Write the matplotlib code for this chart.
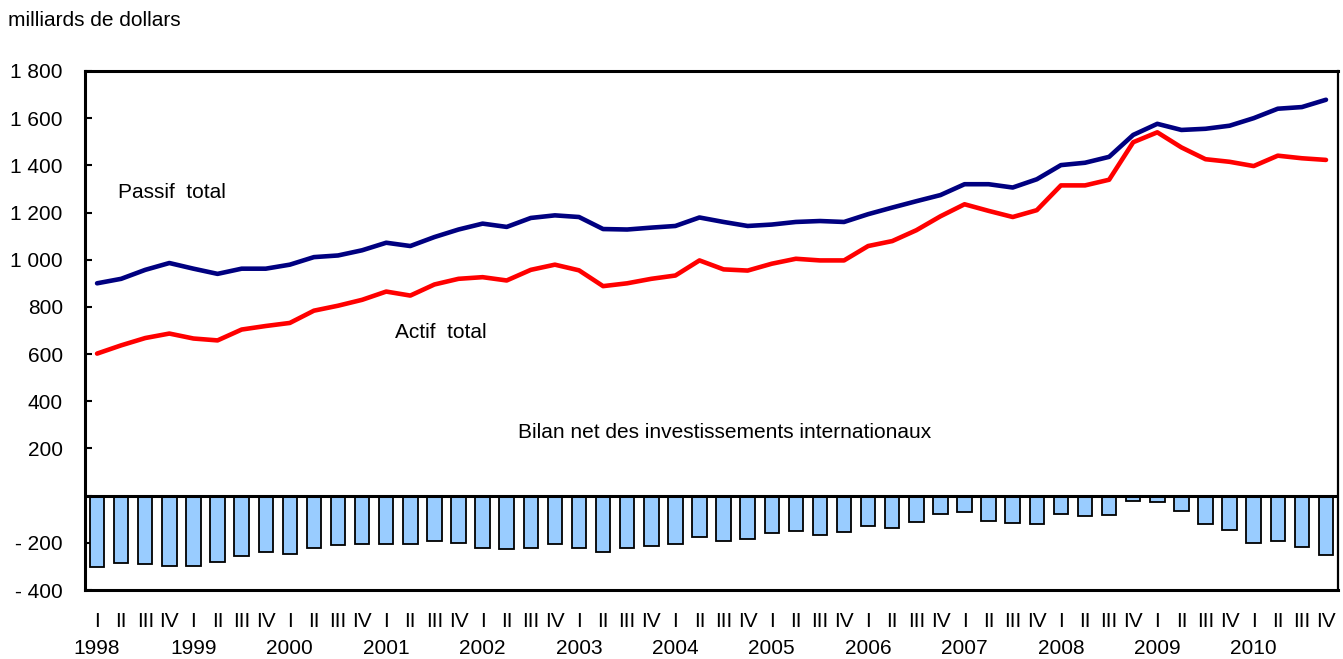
import matplotlib
matplotlib.use("Agg")
import matplotlib.pyplot as plt
import matplotlib.transforms as mtransforms

plt.rcParams['font.family'] = ['Liberation Sans', 'DejaVu Sans']

years = [str(y) for y in range(1998, 2011)]
quarters = ["I", "II", "III", "IV"]

passif = [900, 919, 957, 986, 962, 940, 962, 962, 979, 1011, 1018, 1040, 1072, 1058, 1096, 1128,
          1153, 1139, 1177, 1188, 1181, 1130, 1128, 1136, 1143, 1179, 1160, 1143, 1149, 1160, 1164, 1160,
          1193, 1221, 1248, 1274, 1320, 1320, 1306, 1341, 1401, 1411, 1436, 1529, 1576, 1550, 1555, 1568,
          1600, 1640, 1647, 1678]
actif = [602, 637, 668, 687, 666, 658, 704, 719, 732, 784, 805, 830, 865, 848, 895, 919,
         926, 912, 957, 979, 955, 888, 900, 919, 933, 997, 959, 954, 983, 1004, 997, 997,
         1058, 1079, 1125, 1184, 1235, 1207, 1181, 1210, 1315, 1315, 1339, 1498, 1540, 1476, 1426, 1415,
         1397, 1441, 1430, 1423]
bilan_net = [-302, -285, -291, -299, -297, -281, -257, -241, -246, -223, -210, -204, -206, -207, -194, -199,
             -224, -227, -220, -204, -224, -241, -224, -213, -206, -176, -194, -184, -160, -152, -166, -154,
             -129, -136, -111, -78, -71, -108, -118, -122, -77, -86, -84, -22, -27, -64, -122, -146,
             -199, -193, -217, -252]

y_ticks = [-400, -200, 0, 200, 400, 600, 800, 1000, 1200, 1400, 1600, 1800]
y_labels = ["- 400", "- 200", "", "200", "400", "600", "800", "1 000", "1 200", "1 400", "1 600", "1 800"]

n = len(passif)
x = list(range(n))
q_labels = [quarters[i % 4] for i in range(n)]

FS = 15

fig = plt.figure(figsize=(13.43, 6.59), dpi=100)
ax = fig.add_axes([0.0633, 0.1047, 0.9330, 0.7876])

ax.bar(x, bilan_net, width=0.6, color="#99CCFF", edgecolor="black", linewidth=1.3, zorder=2)
ax.axhline(0, color="black", linewidth=2.2, zorder=3)
ax.plot(x, passif, color="#000080", linewidth=3.3, solid_capstyle="round", zorder=4)
ax.plot(x, actif, color="#FF0000", linewidth=3.3, solid_capstyle="round", zorder=4)

ax.set_xlim(-0.5, n - 0.5)
ax.set_ylim(-400, 1800)
ax.set_yticks(y_ticks)
ax.set_yticklabels(y_labels, fontsize=FS)
ax.tick_params(axis="y", direction="in", length=5, width=1.5, pad=16)
ax.set_xticks(x)
ax.set_xticklabels(q_labels, fontsize=FS)
ax.tick_params(axis="x", length=0, pad=16)

for s in ["left", "bottom", "top"]:
    ax.spines[s].set_linewidth(2.2)
ax.spines["right"].set_linewidth(1.6)

trans = mtransforms.blended_transform_factory(ax.transData, ax.transAxes)
for k, yr in enumerate(years):
    ax.text(4 * k, -0.112, yr, transform=trans, ha="center", va="center", fontsize=FS)

ax.text(0.0263, 0.765, "Passif  total", transform=ax.transAxes, ha="left", va="center", fontsize=FS)
ax.text(0.2474, 0.4952, "Actif  total", transform=ax.transAxes, ha="left", va="center", fontsize=FS)
ax.text(0.5104, 0.3044, "Bilan net des investissements internationaux", transform=ax.transAxes,
        ha="center", va="center", fontsize=FS)
fig.text(8 / 1343, 1 - 20 / 659, "milliards de dollars", ha="left", va="center", fontsize=FS)

fig.savefig("out.png", dpi=100)
